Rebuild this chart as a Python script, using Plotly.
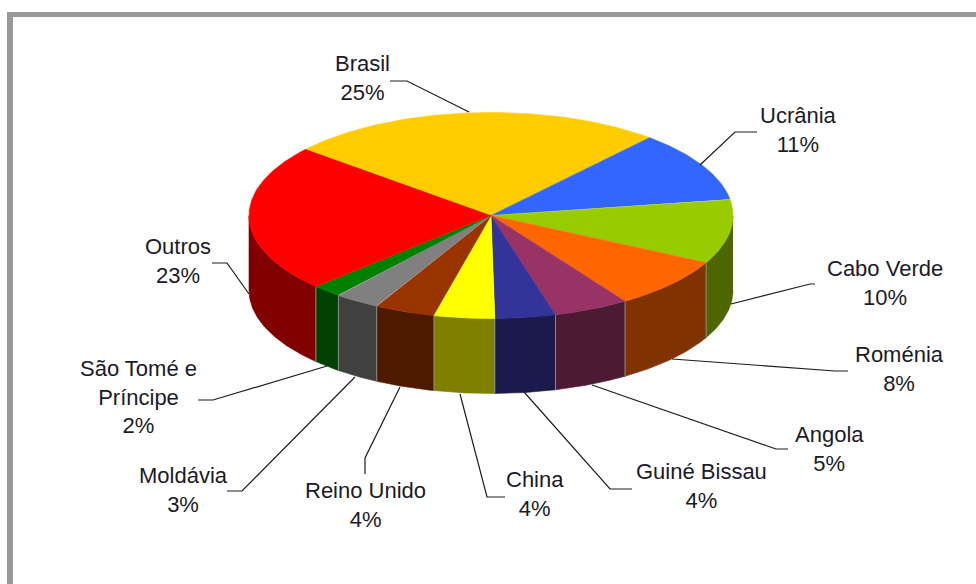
import numpy as np
import plotly.graph_objects as go

# Shares of the foreign population by country of origin
countries = ["Brasil", "Ucrânia", "Cabo Verde", "Roménia", "Angola", "Guiné Bissau",
             "China", "Reino Unido", "Moldávia", "São Tomé e<br>Príncipe", "Outros"]
shares = [25, 11, 10, 8, 5, 4, 4, 4, 3, 2, 23]
top_colors = ["#FFCC00", "#3366FF", "#99CC00", "#FF6600", "#993366", "#333399",
              "#FFFF00", "#993300", "#808080", "#008000", "#FF0000"]
wall_colors = ["#806600", "#1A3380", "#4D6600", "#803300", "#4D1A33", "#1A1A4D",
               "#808000", "#4D1A00", "#404040", "#004000", "#800000"]

# Label centres and leader polylines, in page pixels
label_xy = [(362, 78), (798, 130), (885, 283), (899, 369), (829, 449), (701, 486),
            (535, 494), (365, 505), (183, 490), (138, 397), (178, 261)]
leaders = [
    [(390, 81), (407, 81), (469, 112)],
    [(757, 132), (735, 132), (700, 165)],
    [(815, 284), (810, 284), (731, 304)],
    [(848, 371), (835, 371), (672, 359)],
    [(788, 449), (776, 449), (592, 385)],
    [(632, 489), (610, 489), (524, 392)],
    [(505, 497), (487, 497), (460, 394)],
    [(365, 474), (365, 458), (400, 387)],
    [(227, 491), (242, 491), (355, 377)],
    [(198, 400), (213, 400), (327, 366)],
    [(212, 263), (227, 263), (249, 294)],
]

# Pie geometry
CX, CY = 491.0, 215.5
RX, RY = 242.0, 103.0
DEPTH = 75.0
START_DEG = -50.0


def rim(deg, drop=0.0):
    a = np.radians(deg)
    return CX + RX * np.sin(a), CY - RY * np.cos(a) + drop


fracs = np.array(shares, dtype=float) / sum(shares)
edges = START_DEG + 360 * np.concatenate([[0], np.cumsum(fracs)])

fig = go.Figure()


def polygon(x, y, color):
    fig.add_trace(go.Scatter(x=x, y=y, mode="lines", fill="toself", fillcolor=color,
                             line=dict(color=color, width=0.6), hoverinfo="skip",
                             showlegend=False))


# Outer walls: only the front half of the rim (90° to 270°) is visible
for i, color in enumerate(wall_colors):
    lo, hi = max(edges[i], 90), min(edges[i + 1], 270)
    if hi <= lo:
        continue
    arc = np.linspace(lo, hi, 60)
    xt, yt = rim(arc)
    xb, yb = rim(arc[::-1], DEPTH)
    polygon(np.concatenate([xt, xb]), np.concatenate([yt, yb]), color)

# Thin separators where neighbouring walls meet
for deg in edges[1:-1]:
    if 90 < deg < 270:
        x0, y0 = rim(deg)
        x1, y1 = rim(deg, DEPTH)
        fig.add_trace(go.Scatter(x=[x0, x1], y=[y0, y1], mode="lines",
                                 line=dict(color="#8c8c8c", width=1),
                                 hoverinfo="skip", showlegend=False))

# Top face
for i, color in enumerate(top_colors):
    arc = np.linspace(edges[i], edges[i + 1], 120)
    xt, yt = rim(arc)
    polygon(np.concatenate([[CX], xt]), np.concatenate([[CY], yt]), color)

# Leader lines
for path in leaders:
    fig.add_trace(go.Scatter(x=[p[0] for p in path], y=[p[1] for p in path], mode="lines",
                             line=dict(color="#1c1c1c", width=1.2),
                             hoverinfo="skip", showlegend=False))

annotations = [
    dict(x=xy[0], y=xy[1], xref="x", yref="y", text=f"{name}<br>{share}%", showarrow=False,
         xanchor="center", yanchor="middle", align="center",
         font=dict(family="Liberation Sans, Arial, sans-serif", size=22, color="#1a1a2a"))
    for name, share, xy in zip(countries, shares, label_xy)
]

# Grey frame along the left and top of the page
frame = [
    dict(type="rect", xref="x", yref="y", x0=7, x1=13, y0=12, y1=584,
         fillcolor="#999999", line_width=0, layer="below"),
    dict(type="rect", xref="x", yref="y", x0=7, x1=976, y0=12, y1=17,
         fillcolor="#999999", line_width=0, layer="below"),
]

fig.update_layout(
    width=976, height=584, margin=dict(l=0, r=0, t=0, b=0),
    paper_bgcolor="white", plot_bgcolor="white", showlegend=False,
    xaxis=dict(range=[0, 976], visible=False, fixedrange=True),
    yaxis=dict(range=[584, 0], visible=False, fixedrange=True),
    annotations=annotations, shapes=frame,
)

fig.write_html("out.html", config={"displayModeBar": False})
